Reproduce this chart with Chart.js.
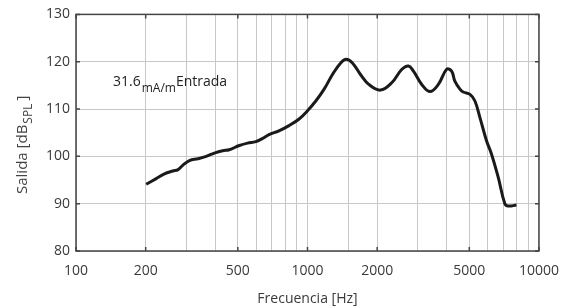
<!DOCTYPE html>
<html>
<head>
<meta charset="utf-8">
<script src="https://cdn.jsdelivr.net/npm/chart.js@4/dist/chart.umd.min.js"></script>
<style>
  body { margin: 0; background: #fff; }
</style>
</head>
<body>
<canvas id="myChart" width="571" height="307"></canvas>
<script>
// valores
const frecuencia = [201, 222, 241, 262, 276, 289, 309, 336, 365, 396, 430, 459, 508, 551, 598, 640, 682, 753, 832, 920, 998,
    1086, 1180, 1282, 1394, 1469, 1560, 1694, 1840, 2067, 2317, 2558, 2731, 2869, 3115, 3384, 3675, 3993, 4193, 4331,
    4555, 4705, 5034, 5288, 5558, 5934, 6233, 6664, 7120, 7360, 7995];
const salida = [94.1, 95.3, 96.3, 96.9, 97.2, 98.1, 99.1, 99.5, 100, 100.7, 101.2, 101.4, 102.3, 102.8, 103.1, 103.8, 104.6, 105.4, 106.5, 107.9, 109.6,
    111.7, 114.2, 117.3, 119.8, 120.5, 119.8, 117.3, 115.2, 114, 115.6, 118.4, 119.1, 118, 115.2, 113.7, 115.2, 118.4, 118, 115.9,
    114.2, 113.6, 113.1, 111.7, 108.2, 103.3, 100.5, 95.6, 90, 89.5, 89.7];
const xLabels = [100, 200, 500, 1000, 2000, 5000, 10000];
const yTicks = [80, 90, 100, 110, 120, 130];

const FONT = '"Open Sans", sans-serif';

const framePlugin = {
    id: 'frame',
    afterDraw(chart) {
        const ctx = chart.ctx;
        const a = chart.chartArea;
        const x = chart.scales.x;
        const y = chart.scales.y;
        ctx.save();
        ctx.strokeStyle = '#444';
        ctx.lineWidth = 1.5;
        ctx.strokeRect(a.left, a.top, a.right - a.left, a.bottom - a.top);
        ctx.beginPath();
        xLabels.forEach(v => {
            const px = x.getPixelForValue(v);
            ctx.moveTo(px, a.bottom); ctx.lineTo(px, a.bottom - 4);
            ctx.moveTo(px, a.top); ctx.lineTo(px, a.top + 4);
        });
        yTicks.forEach(v => {
            const py = y.getPixelForValue(v);
            ctx.moveTo(a.left, py); ctx.lineTo(a.left + 4, py);
            ctx.moveTo(a.right, py); ctx.lineTo(a.right - 4, py);
        });
        ctx.stroke();

        // anotacion
        ctx.fillStyle = '#222';
        ctx.textBaseline = 'alphabetic';
        ctx.textAlign = 'left';
        let tx = 113, ty = 86;
        ctx.font = '14px ' + FONT;
        ctx.fillText('31.6', tx, ty);
        tx += ctx.measureText('31.6').width + 1;
        ctx.font = '12px ' + FONT;
        ctx.fillText('mA/m', tx, ty + 6);
        tx += ctx.measureText('mA/m').width;
        ctx.font = '14px ' + FONT;
        ctx.fillText('Entrada', tx, ty);

        // titulo eje y
        ctx.fillStyle = '#444';
        ctx.translate(27, 194);
        ctx.rotate(-Math.PI / 2);
        ctx.font = '15px ' + FONT;
        ctx.fillText('Salida [dB', 0, 0);
        let w = ctx.measureText('Salida [dB').width + 1;
        ctx.font = '12px ' + FONT;
        ctx.fillText('SPL', w, 5);
        w += ctx.measureText('SPL').width + 3;
        ctx.font = '15px ' + FONT;
        ctx.fillText(']', w, 0);
        ctx.restore();
    }
};

new Chart(document.getElementById('myChart'), {
    type: 'line',
    data: {
        datasets: [{
            data: frecuencia.map((f, i) => ({ x: f, y: salida[i] })),
            borderColor: '#1a1a1a',
            borderWidth: 3,
            pointRadius: 0,
            tension: 0.4,
            fill: false
        }]
    },
    options: {
        responsive: false,
        devicePixelRatio: 1,
        animation: false,
        layout: { padding: { top: 13, right: 30, left: 0, bottom: 0 } },
        plugins: { legend: { display: false }, tooltip: { enabled: false } },
        scales: {
            x: {
                type: 'logarithmic',
                min: 100,
                max: 10000,
                afterFit: s => { s.height = 56; },
                grid: { color: '#c8c8c8', lineWidth: 1, drawTicks: false },
                border: { display: false },
                ticks: {
                    autoSkip: false,
                    maxRotation: 0,
                    padding: 12,
                    color: '#3a3a3a',
                    font: { family: FONT, size: 14 },
                    callback: v => xLabels.includes(v) ? String(v) : ''
                },
                title: {
                    display: true,
                    text: 'Frecuencia [Hz]',
                    color: '#3a3a3a',
                    font: { family: FONT, size: 14 },
                    padding: { top: 1, bottom: 0 }
                }
            },
            y: {
                min: 80,
                max: 130,
                afterFit: s => { s.width = 76; },
                grid: { color: '#c8c8c8', lineWidth: 1, drawTicks: false },
                border: { display: false },
                ticks: {
                    stepSize: 10,
                    padding: 6,
                    color: '#3a3a3a',
                    font: { family: FONT, size: 14 }
                }
            }
        }
    },
    plugins: [framePlugin]
});
</script>
</body>
</html>
